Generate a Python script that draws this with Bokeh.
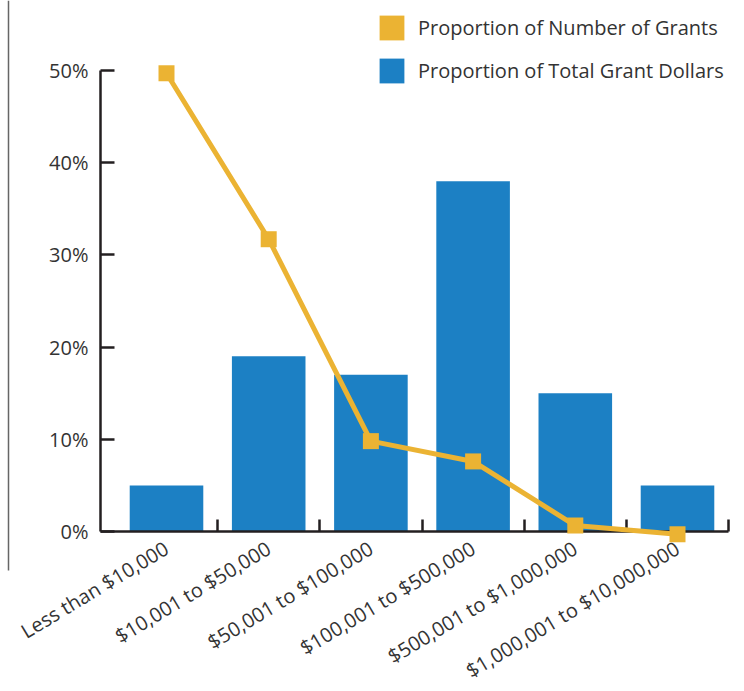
from bokeh.plotting import figure
from bokeh.models import (Range1d, LinearAxis, FixedTicker, Legend, LegendItem,
                          ColumnDataSource)
from bokeh.embed import file_html
from bokeh.resources import INLINE

categories = ["Less than $10,000", "$10,001 to $50,000", "$50,001 to $100,000",
              "$100,001 to $500,000", "$500,001 to $1,000,000", "$1,000,001 to $10,000,000"]
grant_dollars = [5.0, 19.0, 17.0, 38.0, 15.0, 5.0]
number_of_grants = [49.7, 31.7, 9.8, 7.6, 0.65, -0.3]
y_ticks = [0, 10, 20, 30, 40, 50]
y_tick_labels = ["0%", "10%", "20%", "30%", "40%", "50%"]

ORANGE = "#EBB333"
BLUE = "#1C80C4"
AXIS = "#231F20"
TEXT = "#333333"
FONT = "Open Sans"

W, H = 744, 691
# pixel geometry
px_per_cat = 102.2
cx0 = 166.0
px_per_pct = 9.22
y0_px = 531.0

x_start = 0.5 - cx0 / px_per_cat
x_end = 0.5 + (W - cx0) / px_per_cat
y_end = y0_px / px_per_pct
y_start = -(H - y0_px) / px_per_pct

x_axis_left = 0.5 - (cx0 - 100) / px_per_cat
deco_x = 0.5 - (cx0 - 8) / px_per_cat
deco_bottom = -(570 - y0_px) / px_per_pct

p = figure(width=W, height=H, output_backend="svg", toolbar_location=None,
           x_range=Range1d(x_start, x_end), y_range=Range1d(y_start, y_end),
           x_axis_type=None, y_axis_type=None,
           min_border=0, min_border_left=0, min_border_right=0,
           min_border_top=0, min_border_bottom=0)
p.outline_line_color = None
p.xgrid.visible = False
p.ygrid.visible = False
p.background_fill_color = "white"

n = len(categories)
centers = [i + 0.5 for i in range(n)]
boundaries = [i + 1.0 for i in range(n)]

src = ColumnDataSource(dict(x=centers, dollars=grant_dollars, grants=number_of_grants))

bars = p.vbar(x="x", top="dollars", bottom=0, width=0.72, source=src,
              fill_color=BLUE, line_color=None)
line = p.line(x="x", y="grants", source=src, line_color=ORANGE, line_width=5)
line.level = "overlay"
pts = p.scatter(x="x", y="grants", source=src, marker="square", size=16,
                fill_color=ORANGE, line_color=None)
pts.level = "overlay"

# legend proxy for the orange square (zero-height bar, draws nothing on the plot)
proxy = p.vbar(x=centers[:1], top=[0], bottom=0, width=0.5,
               fill_color=ORANGE, line_color=None)

# decorative page line
deco = LinearAxis(fixed_location=deco_x, bounds=(deco_bottom, y_end),
                  ticker=FixedTicker(ticks=[]), major_tick_line_color=None,
                  minor_tick_line_color=None, major_label_text_font_size="0px",
                  axis_line_color="#666666", axis_line_width=1.5)
p.add_layout(deco, "left")

# y axis
yax = LinearAxis(fixed_location=x_axis_left, bounds=(0, 50),
                 ticker=FixedTicker(ticks=y_ticks),
                 major_label_overrides={t: l for t, l in zip(y_ticks, y_tick_labels)},
                 major_tick_in=14, major_tick_out=0, minor_tick_line_color=None,
                 axis_line_color=AXIS, axis_line_width=2.5,
                 major_tick_line_color=AXIS, major_tick_line_width=2.5,
                 major_label_text_font=FONT, major_label_text_font_size="20px",
                 major_label_text_color=TEXT, major_label_standoff=12)
p.add_layout(yax, "left")

# x axis
xax = LinearAxis(fixed_location=0, bounds=(x_axis_left, float(n)),
                 ticker=FixedTicker(ticks=centers, minor_ticks=boundaries),
                 major_label_overrides={c: l for c, l in zip(centers, categories)},
                 major_tick_in=0, major_tick_out=0, major_tick_line_color=None,
                 minor_tick_in=12, minor_tick_out=0,
                 minor_tick_line_color=AXIS, minor_tick_line_width=2.5,
                 axis_line_color=AXIS, axis_line_width=2.5,
                 major_label_orientation=0.54,
                 major_label_text_font=FONT, major_label_text_font_size="20px",
                 major_label_text_color=TEXT, major_label_standoff=15)
p.add_layout(xax, "below")

legend = Legend(items=[LegendItem(label="Proportion of Number of Grants", renderers=[proxy]),
                       LegendItem(label="Proportion of Total Grant Dollars", renderers=[bars])],
                location=(376, H - 92), orientation="vertical",
                glyph_width=31, glyph_height=31, label_height=43,
                spacing=0, padding=0, margin=0, label_standoff=11,
                label_text_font=FONT, label_text_font_size="20px",
                label_text_color=TEXT, border_line_color=None,
                background_fill_alpha=0)
p.add_layout(legend, "center")

open("out.html", "w").write(file_html(p, INLINE))
